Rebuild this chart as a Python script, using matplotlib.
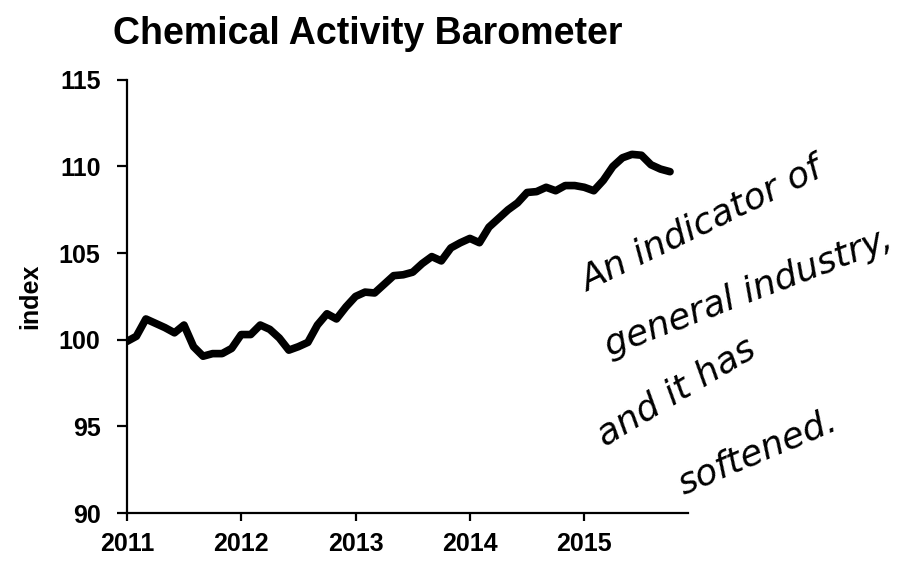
import numpy as np
import matplotlib
matplotlib.use("Agg")
import matplotlib.pyplot as plt

plt.rcParams.update({
    "font.family": ["Liberation Sans", "DejaVu Sans"],
    "font.weight": "bold",
})

# monthly index values, Jan 2011 .. Oct 2015
start_year = 2011
cab_index = [
    99.9, 100.2, 101.2, 100.95, 100.7, 100.4, 100.85, 99.6, 99.05, 99.2, 99.2, 99.5,
    100.3, 100.3, 100.85, 100.6, 100.1, 99.4, 99.6, 99.85, 100.85, 101.5, 101.2, 101.9,
    102.5, 102.75, 102.7, 103.2, 103.7, 103.75, 103.9, 104.4, 104.8, 104.55, 105.3, 105.6,
    105.85, 105.6, 106.5, 107.0, 107.5, 107.9, 108.5, 108.55, 108.8, 108.6, 108.9, 108.9,
    108.8, 108.6, 109.2, 110.0, 110.5, 110.7, 110.65, 110.1, 109.85, 109.7,
]
year_ticks = [2011, 2012, 2013, 2014, 2015]
y_ticks = [90, 95, 100, 105, 110, 115]

note_lines = ["An indicator of", "general industry,", "and it has", "softened."]

months = start_year + np.arange(len(cab_index)) / 12.0

fig = plt.figure(figsize=(9.19, 5.64), dpi=100)
ax = fig.add_axes([0.138, 0.0904, 0.611, 0.768])

ax.plot(months, cab_index, color="black", lw=5.5, solid_capstyle="round",
        solid_joinstyle="round")

ax.set_xlim(2011, 2015.91)
ax.set_ylim(90, 115)
ax.set_xticks(year_ticks)
ax.set_yticks(y_ticks)
ax.tick_params(axis="both", labelsize=18, width=1.6, direction="out")
ax.tick_params(axis="x", length=6, pad=8)
ax.tick_params(axis="y", length=7, pad=12)
for lab in ax.get_xticklabels() + ax.get_yticklabels():
    lab.set_fontweight("bold")
ax.set_ylabel("index", fontsize=18, fontweight="bold", labelpad=12)

for side in ["top", "right"]:
    ax.spines[side].set_visible(False)
for side in ["left", "bottom"]:
    ax.spines[side].set_linewidth(1.6)

fig.text(0.40, 0.94, "Chemical Activity Barometer", ha="center", va="center",
         fontsize=27, fontweight="bold")

# handwritten-style note
hand = dict(ha="center", va="center", fontsize=26, fontstyle="italic",
            fontweight="light", family=["DejaVu Sans"], color="black")
fig.text(702 / 919, 1 - 225 / 564, note_lines[0], rotation=26, **hand)
fig.text(748 / 919, 1 - 292 / 564, note_lines[1], rotation=21, **hand)
fig.text(676 / 919, 1 - 392 / 564, note_lines[2], rotation=31, **hand)
fig.text(758 / 919, 1 - 452 / 564, note_lines[3], rotation=23, **hand)

fig.savefig("out.png", dpi=100)
